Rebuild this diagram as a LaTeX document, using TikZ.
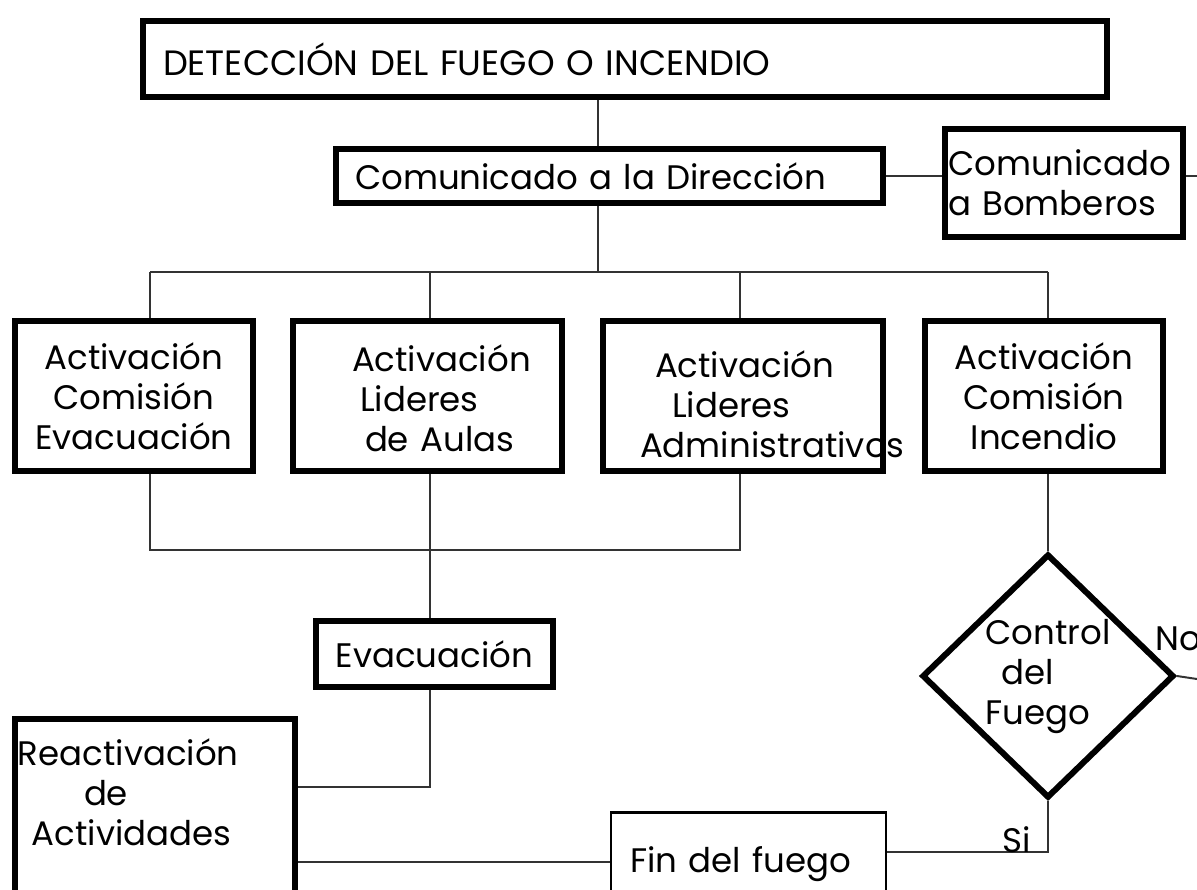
\documentclass[tikz,border=0pt]{standalone}
\usepackage{fontspec}
\setmainfont{Poppins}
\usetikzlibrary{shapes.geometric, positioning}

\begin{document}
\begin{tikzpicture}[x=0.5pt, y=-0.5pt,
    caja/.style={draw, line width=3pt, inner ysep=0pt, font=\fontsize{17}{20}\selectfont},
    cajafina/.style={caja, line width=1.3pt},
    rombo/.style={caja, diamond, inner sep=0pt, minimum width=126pt, minimum height=122pt},
    linea/.style={draw=black!80, line width=1pt},
    rotulo/.style={inner sep=0pt, font=\fontsize{17}{20}\selectfont}]
    \useasboundingbox (0,0) rectangle (1197,889);
    \clip (0,0) rectangle (1197,889);

    % cajas
    \node[caja, minimum width=482pt, minimum height=38pt, text width=462pt, inner xsep=10pt, align=left, font=\fontsize{17.6}{20}\selectfont] (deteccion) at (625,59) {DETECCIÓN DEL FUEGO O INCENDIO};
    \node[caja, minimum width=273.5pt, minimum height=27pt, text width=254.5pt, inner xsep=9.5pt, align=left] (direccion) at (609.5,176) {Comunicado a la Dirección};
    \node[caja, minimum width=119pt, minimum height=54pt, text width=116pt, inner xsep=1.5pt, align=left] (bomberos) at (1064,183) {Comunicado\\a Bomberos};

    \node[caja, minimum width=119pt, minimum height=75pt, align=center] (act1) at (134,396) {Activación\\Comisión\\Evacuación};
    \node[caja, minimum width=134.5pt, minimum height=75pt, text width=75.5pt, inner xsep=29.5pt, align=left] (act2) at (427.5,396) {\rule{0pt}{16pt}Activación\\\hspace*{4pt}Lideres\\\hspace*{6.5pt}\mbox{de Aulas}};
    \node[caja, minimum width=140pt, minimum height=75pt, text width=103pt, inner xsep=18.5pt, align=left] (act3) at (743,396) {\rule{0pt}{22pt}\hspace*{7.5pt}Activación\\\hspace*{16pt}Lideres\\Administrativos};
    \node[caja, minimum width=119pt, minimum height=75pt, align=center] (act4) at (1044,396) {Activación\\Comisión\\Incendio};

    \node[caja, minimum width=118.5pt, minimum height=33pt, align=center] (evacuacion) at (434.5,654) {Evacuación};
    \node[rombo, align=left] (control) at (1048,676) {Control\\\hspace*{8pt}del\\Fuego};
    \node[caja, anchor=north, minimum width=140pt, text width=137pt, inner xsep=1.5pt, inner ysep=10pt, align=left] (reactivacion) at (155,716) {Reactivación\\\hspace*{33pt}de\\\hspace*{7pt}Actividades\\\mbox{}\\\mbox{}};
    \node[cajafina, anchor=north, minimum width=137.5pt, text width=118.5pt, inner xsep=9.5pt, inner ysep=17pt, align=left] (fin) at (748.5,811) {Fin del fuego\\\mbox{}\\\mbox{}};

    % conectores
    \coordinate (bus) at (598,272);
    \coordinate (bus1) at (150,272);
    \coordinate (bus2) at (430,272);
    \coordinate (bus3) at (740,272);
    \coordinate (bus4) at (1048,272);
    \draw[linea] (deteccion.south -| bus) -- (direccion.north -| bus);
    \draw[linea] (direccion.south -| bus) -- (bus);
    \draw[linea] (bus1) -- (bus4);
    \foreach \i in {1,...,4}
        \draw[linea] (bus\i) -- (act\i.north -| bus\i);

    \coordinate (salidab) at (1197,176);
    \draw[linea] (direccion.east) -- (bomberos.west |- direccion.east);
    \draw[linea] (bomberos.east |- salidab) -- (salidab);

    \coordinate (col1) at (150,550);
    \coordinate (col3) at (740,550);
    \draw[linea] (act1.south -| col1) -- (col1) -- (col3) -- (act3.south -| col3);
    \draw[linea] (act2.south -| bus2) -- (evacuacion.north -| bus2);

    \coordinate (codo) at (430,787);
    \draw[linea] (evacuacion.south -| codo) -- (codo) -- (reactivacion.east |- codo);
    \coordinate (nivelfin) at (0,862);
    \draw[linea] (reactivacion.east |- nivelfin) -- (fin.west |- nivelfin);

    \draw[linea] (act4.south -| bus4) -- (control.north);
    \coordinate (codosi) at (1048,852);
    \draw[linea] (fin.east |- codosi) -- (codosi) -- (control.south);
    \coordinate (salidano) at (1197,679);
    \draw[linea] (control.east) -- (salidano);

    \node[rotulo, anchor=base east] (si) at (1031,852) {Si};
    \node[rotulo, anchor=base west] (no) at (1155,650) {No};
\end{tikzpicture}
\end{document}
